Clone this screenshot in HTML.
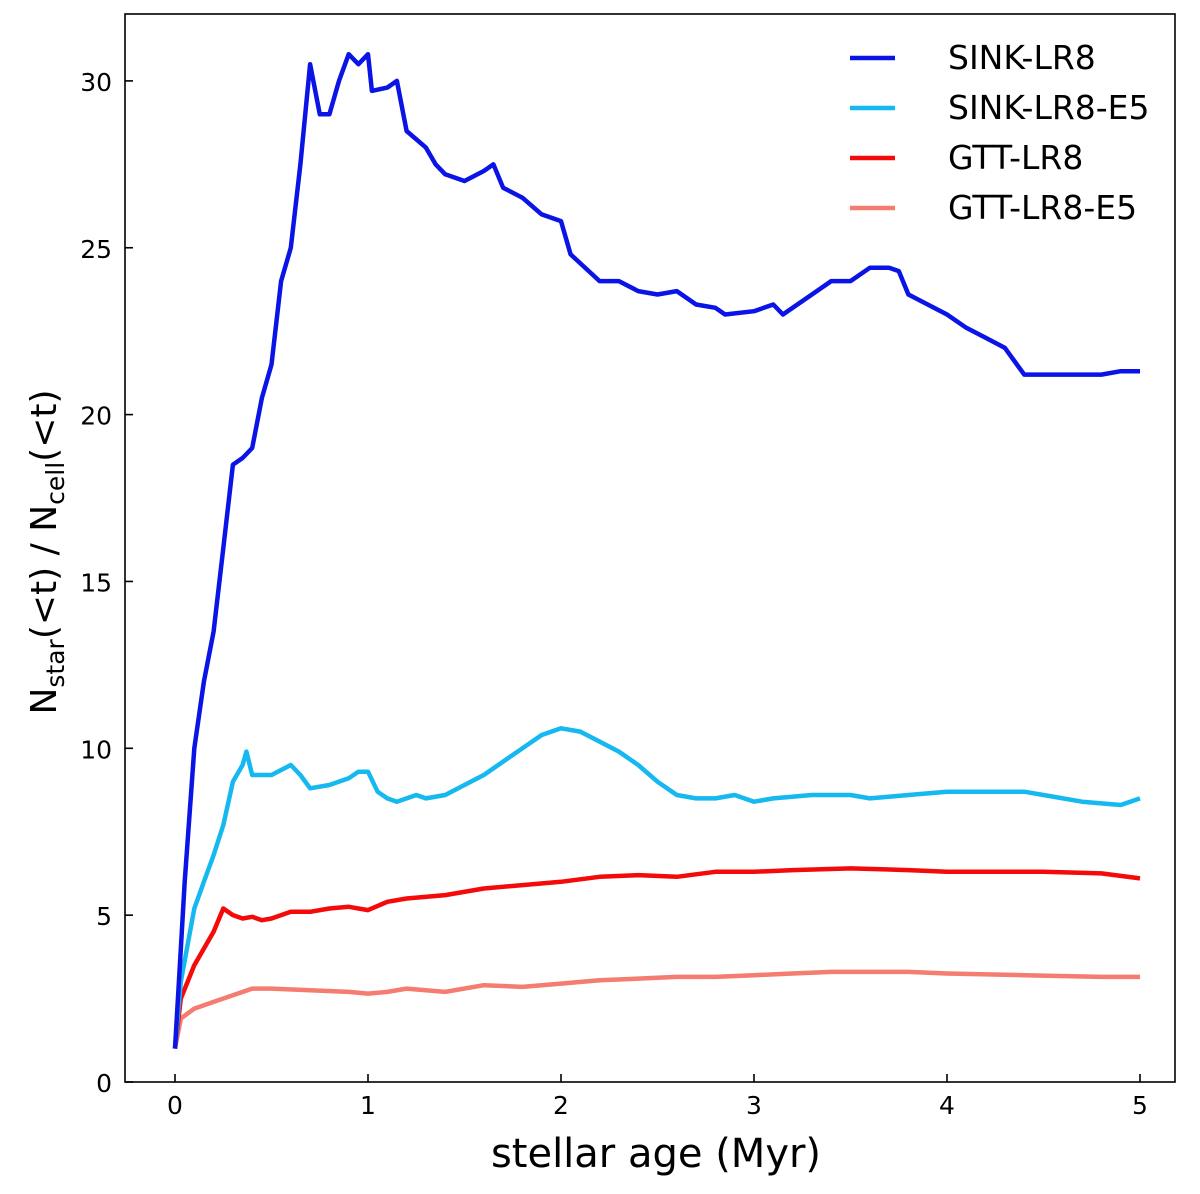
<!DOCTYPE html>
<html><head><meta charset="utf-8"><style>
body{margin:0;background:#fff;}
svg{display:block;font-family:"DejaVu Sans","Liberation Sans",sans-serif;}
</style></head><body>
<svg id="chart" width="1200" height="1194" viewBox="0 0 1200 1194">
<rect x="125" y="14" width="1050" height="1068" fill="none" stroke="#000" stroke-width="1.6"/>
<g id="ticks"></g>
<g id="series"></g>
<text x="656" y="1167" font-size="40" text-anchor="middle">stellar age (Myr)</text>
<text transform="translate(56,552) rotate(-90)" font-size="36" text-anchor="middle">N<tspan font-size="25" dy="8">star</tspan><tspan dy="-8">(&lt;t) / N</tspan><tspan font-size="25" dy="8">cell</tspan><tspan dy="-8">(&lt;t)</tspan></text>
<g id="legend"></g>
</svg>
<script>
const xTicks=[0,1,2,3,4,5];
const yTicks=[0,5,10,15,20,25,30];
const seriesNames=["SINK-LR8","SINK-LR8-E5","GTT-LR8","GTT-LR8-E5"];
const seriesColors=["#0a14e6","#16b8f0","#f50a0a","#f47c70"];
const sinkT=[0,0.02,0.05,0.1,0.15,0.2,0.25,0.3,0.35,0.4,0.45,0.5,0.55,0.6,0.65,0.7,0.75,0.8,0.85,0.9,0.95,1.0,1.02,1.1,1.15,1.2,1.3,1.35,1.4,1.5,1.6,1.65,1.7,1.8,1.9,2.0,2.05,2.2,2.3,2.4,2.5,2.6,2.7,2.8,2.85,3.0,3.1,3.15,3.3,3.4,3.5,3.6,3.7,3.75,3.8,3.9,4.0,4.1,4.2,4.3,4.4,4.5,4.6,4.7,4.8,4.9,5.0];
const sinkV=[1,3,6,10,12,13.5,16,18.5,18.7,19,20.5,21.5,24,25,27.5,30.5,29,29,30,30.8,30.5,30.8,29.7,29.8,30,28.5,28,27.5,27.2,27,27.3,27.5,26.8,26.5,26,25.8,24.8,24,24,23.7,23.6,23.7,23.3,23.2,23,23.1,23.3,23,23.6,24,24,24.4,24.4,24.3,23.6,23.3,23,22.6,22.3,22,21.2,21.2,21.2,21.2,21.2,21.3,21.3];
const sinkE5T=[0,0.03,0.1,0.15,0.2,0.25,0.3,0.35,0.37,0.4,0.5,0.6,0.65,0.7,0.8,0.9,0.95,1.0,1.05,1.1,1.15,1.25,1.3,1.4,1.5,1.6,1.7,1.8,1.9,2.0,2.1,2.2,2.3,2.4,2.5,2.6,2.7,2.8,2.9,3.0,3.1,3.3,3.5,3.6,3.8,4.0,4.2,4.4,4.5,4.7,4.9,5.0];
const sinkE5V=[1,3,5.2,6,6.8,7.7,9,9.5,9.9,9.2,9.2,9.5,9.2,8.8,8.9,9.1,9.3,9.3,8.7,8.5,8.4,8.6,8.5,8.6,8.9,9.2,9.6,10,10.4,10.6,10.5,10.2,9.9,9.5,9,8.6,8.5,8.5,8.6,8.4,8.5,8.6,8.6,8.5,8.6,8.7,8.7,8.7,8.6,8.4,8.3,8.5];
const gttT=[0,0.03,0.1,0.2,0.25,0.3,0.35,0.4,0.45,0.5,0.6,0.7,0.8,0.9,1.0,1.1,1.2,1.4,1.6,1.8,2.0,2.2,2.4,2.6,2.8,3.0,3.2,3.5,3.8,4.0,4.2,4.5,4.8,5.0];
const gttV=[1,2.5,3.5,4.5,5.2,5,4.9,4.95,4.85,4.9,5.1,5.1,5.2,5.25,5.15,5.4,5.5,5.6,5.8,5.9,6.0,6.15,6.2,6.15,6.3,6.3,6.35,6.4,6.35,6.3,6.3,6.3,6.25,6.1];
const gttE5T=[0,0.03,0.1,0.2,0.3,0.4,0.5,0.7,0.9,1.0,1.1,1.2,1.3,1.4,1.6,1.8,2.0,2.2,2.4,2.6,2.8,3.0,3.2,3.4,3.6,3.8,4.0,4.4,4.8,5.0];
const gttE5V=[1,1.9,2.2,2.4,2.6,2.8,2.8,2.75,2.7,2.65,2.7,2.8,2.75,2.7,2.9,2.85,2.95,3.05,3.1,3.15,3.15,3.2,3.25,3.3,3.3,3.3,3.25,3.2,3.15,3.15];

const NS="http://www.w3.org/2000/svg";
const X=v=>175+v*193;
const Y=v=>1082-v*33.37;
const tg=document.getElementById('ticks');
function mk(tag,attrs,parent){const e=document.createElementNS(NS,tag);for(const k in attrs)e.setAttribute(k,attrs[k]);parent.appendChild(e);return e;}
xTicks.forEach(t=>{
  const l=mk('line',{x1:X(t),x2:X(t),y1:1082,y2:1074,stroke:'#000','stroke-width':1.6},tg);
  
  
  const s=mk('text',{x:X(t),y:1114,'font-size':25,'text-anchor':'middle'},tg);
  s.textContent=t;
  
  
});
yTicks.forEach(t=>{
  const l=mk('line',{x1:125,x2:133,y1:Y(t),y2:Y(t),stroke:'#000','stroke-width':1.6},tg);
  
  
  const s=mk('text',{x:112,y:Y(t)+10,'font-size':25,'text-anchor':'end'},tg);
  s.textContent=t;
  
  
});
const sg=document.getElementById('series');
const allT=[sinkT,sinkE5T,gttT,gttE5T], allV=[sinkV,sinkE5V,gttV,gttE5V];
for(let i=3;i>=0;i--){
  const d=allT[i].map((t,j)=>(j?'L':'M')+X(t).toFixed(1)+','+Y(allV[i][j]).toFixed(1)).join('');
  const p=mk('path',{d:d,fill:'none',stroke:seriesColors[i],'stroke-width':4.5,'stroke-linejoin':'round'},sg);
  
  
}
const lg=document.getElementById('legend');
seriesNames.forEach((n,i)=>{
  const y=58+i*50;
  const l=mk('line',{x1:850,x2:895,y1:y,y2:y,stroke:seriesColors[i],'stroke-width':4.5},lg);
  
  
  const s=mk('text',{x:948,y:y+11,'font-size':33},lg);
  s.textContent=n;
  
  
});
</script>
</body></html>
